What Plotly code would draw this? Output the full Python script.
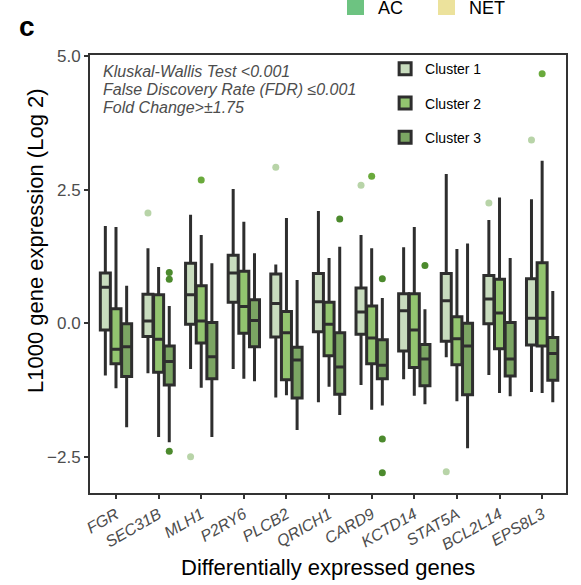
import plotly.graph_objects as go

genes = ["FGR", "SEC31B", "MLH1", "P2RY6", "PLCB2", "QRICH1", "CARD9",
         "KCTD14", "STAT5A", "BCL2L14", "EPS8L3"]
clusters = ["Cluster 1", "Cluster 2", "Cluster 3"]

c1_lower = [-0.98, -0.94, -0.86, -0.86, -1.39, -1.48, -1.16, -1.05, -0.64, -0.97, -1.29]
c1_q1 = [-0.13, -0.25, -0.02, 0.39, -0.26, -0.16, -0.21, -0.52, -0.34, -0.01, -0.41]
c1_med = [0.67, 0.04, 0.53, 0.94, 0.37, 0.40, 0.21, 0.23, 0.42, 0.45, 0.09]
c1_q3 = [0.94, 0.54, 1.12, 1.27, 0.92, 0.93, 0.66, 0.55, 0.93, 0.89, 0.83]
c1_upper = [1.82, 1.40, 2.03, 2.51, 1.10, 2.10, 1.65, 1.42, 2.79, 1.93, 2.32]

c2_lower = [-1.22, -2.13, -1.21, -1.04, -1.35, -1.19, -1.62, -1.36, -1.46, -1.31, -1.31]
c2_q1 = [-0.76, -0.92, -0.37, -0.19, -1.06, -0.61, -0.76, -0.83, -0.78, -0.48, -0.43]
c2_med = [-0.49, -0.30, 0.04, 0.31, -0.18, -0.02, -0.28, -0.13, -0.29, 0.19, 0.09]
c2_q3 = [0.27, 0.53, 0.70, 0.97, 0.22, 0.39, 0.32, 0.55, 0.12, 0.82, 1.13]
c2_upper = [1.80, 1.05, 1.65, 1.90, 1.97, 1.22, 1.40, 1.80, 1.39, 2.35, 3.04]

c3_lower = [-1.95, -2.23, -2.13, -1.09, -2.00, -1.72, -1.54, -1.52, -2.34, -1.37, -1.48]
c3_q1 = [-1.00, -1.16, -1.04, -0.44, -1.40, -1.33, -1.04, -1.17, -1.34, -0.99, -1.07]
c3_med = [-0.44, -0.72, -0.63, 0.05, -0.69, -0.82, -0.79, -0.67, -0.43, -0.67, -0.57]
c3_q3 = [-0.01, -0.43, 0.01, 0.44, -0.45, -0.18, -0.31, -0.40, 0.00, 0.01, -0.27]
c3_upper = [0.70, 0.32, 1.12, 1.31, 0.81, 1.43, 0.47, 0.26, 1.49, 1.22, 0.60]

c1_out_gene = ["SEC31B", "MLH1", "PLCB2", "CARD9", "STAT5A", "BCL2L14", "EPS8L3"]
c1_out_val = [2.06, -2.50, 2.92, 2.58, -2.78, 2.25, 3.43]
c2_out_gene = ["MLH1", "CARD9", "EPS8L3"]
c2_out_val = [2.68, 2.75, 4.67]
c3_out_gene = ["SEC31B", "SEC31B", "SEC31B", "QRICH1", "CARD9", "CARD9", "CARD9", "KCTD14"]
c3_out_val = [0.95, 0.82, -2.40, 1.95, 0.83, -2.17, -2.80, 1.08]

y_tick_vals = [-2.5, 0.0, 2.5, 5.0]
y_tick_text = ["\u22122.5", "0.0", "2.5", "5.0"]

fills = ["#c8dcbe", "#92c46f", "#7ba563"]
dot_colors = ["#b8d4a8", "#6aaa3c", "#4c8a2d"]
offsets = [-0.25, 0.0, 0.25]
box_w = 0.235

stats = [
    (c1_lower, c1_q1, c1_med, c1_q3, c1_upper, c1_out_gene, c1_out_val),
    (c2_lower, c2_q1, c2_med, c2_q3, c2_upper, c2_out_gene, c2_out_val),
    (c3_lower, c3_q1, c3_med, c3_q3, c3_upper, c3_out_gene, c3_out_val),
]

fig = go.Figure()
for k, (lo, q1, md, q3, up, og, ov) in enumerate(stats):
    xs = [i + offsets[k] for i in range(len(genes))]
    fig.add_trace(go.Box(
        x=xs, lowerfence=lo, q1=q1, median=md, q3=q3, upperfence=up,
        name=clusters[k], legendgroup=clusters[k],
        fillcolor=fills[k], line=dict(color="#2e2e2e", width=3),
        whiskerwidth=0, width=box_w, boxpoints=False,
    ))
    fig.add_trace(go.Scatter(
        x=[genes.index(g) + offsets[k] for g in og], y=ov, mode="markers",
        marker=dict(color=dot_colors[k], size=7), showlegend=False,
        legendgroup=clusters[k], hoverinfo="y",
    ))

axis_common = dict(showline=True, mirror=True, linecolor="#333333", linewidth=2,
                   ticks="outside", ticklen=4, tickwidth=1.5, tickcolor="#333333",
                   showgrid=False, zeroline=False)

fig.update_layout(
    width=581, height=585,
    margin=dict(l=90, r=15, t=55, b=92),
    paper_bgcolor="white", plot_bgcolor="white",
    font=dict(family="Liberation Sans, Arial, sans-serif", color="#000000"),
    showlegend=True,
    boxmode="overlay",
    xaxis=dict(range=[-0.61, 10.56], tickvals=list(range(len(genes))), ticktext=genes,
               tickangle=-30, tickfont=dict(size=16, color="#4d4d4d",
                                            family="Liberation Sans, Arial, sans-serif",
                                            style="italic"),
               **axis_common),
    yaxis=dict(range=[-3.18, 5.02], tickvals=y_tick_vals, ticktext=y_tick_text,
               tickfont=dict(size=17, color="#4d4d4d"), **axis_common),
    legend=dict(x=0.62, y=1.004, xanchor="left", yanchor="top",
                bgcolor="rgba(0,0,0,0)", font=dict(size=14, color="#000000"),
                traceorder="grouped", tracegroupgap=13, itemwidth=30),
)

# Axis titles
fig.add_annotation(text="Differentially expressed genes", xref="paper", yref="paper",
                   x=0.5, y=(493 - 567) / 438, xanchor="center", yanchor="middle",
                   showarrow=False, font=dict(size=22, color="#000000"))
fig.add_annotation(text="L1000 gene expression (Log 2)", xref="paper", yref="paper",
                   x=(35 - 90) / 476, y=(493 - 241) / 438, xanchor="center", yanchor="middle",
                   textangle=-90, showarrow=False, font=dict(size=22, color="#000000"))

# Statistical notes
notes = ["Kluskal-Wallis Test <0.001", "False Discovery Rate (FDR) \u22640.001",
         "Fold Change>\u00b11.75"]
note_y = [71, 89, 107]
for t, yy in zip(notes, note_y):
    fig.add_annotation(text="<i>" + t + "</i>", xref="paper", yref="paper",
                       x=(101 - 90) / 476, y=(493 - yy) / 438, xanchor="left", yanchor="middle",
                       showarrow=False, font=dict(size=16, color="#4d4d4d"))

# Panel letter
fig.add_annotation(text="<b>c</b>", xref="paper", yref="paper",
                   x=(17 - 90) / 476, y=(493 - 27) / 438, xanchor="left", yanchor="middle",
                   showarrow=False, font=dict(size=28, color="#000000"))

# Partial legend at top (from neighbouring panel)
top_keys = ["AC", "NET"]
top_cols = ["#6dc381", "#ece29c"]
top_sq_x = [347, 438]
for lab, col, sx in zip(top_keys, top_cols, top_sq_x):
    fig.add_shape(type="rect", xref="paper", yref="paper",
                  x0=(sx - 90) / 476, x1=(sx + 17 - 90) / 476,
                  y0=(493 - 15) / 438, y1=(493 + 3) / 438,
                  fillcolor=col, line=dict(width=0))
    fig.add_annotation(text=lab, xref="paper", yref="paper",
                       x=(sx + 29 - 90) / 476, y=(493 - 8) / 438, xanchor="left", yanchor="middle",
                       showarrow=False, font=dict(size=18, color="#000000"))

fig.write_html("out.html", config={"displayModeBar": False},
               post_script="document.body.style.margin='0';")
